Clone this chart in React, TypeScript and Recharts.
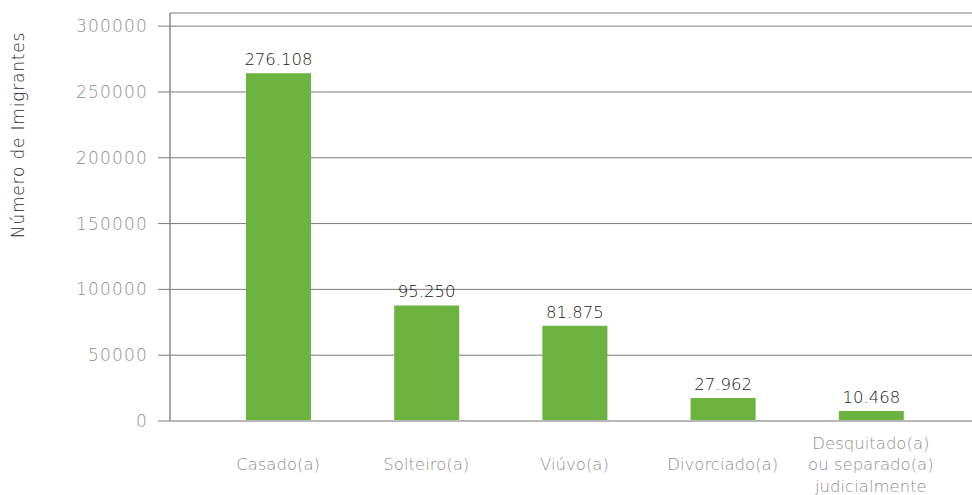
import React from "react";
import { BarChart, Bar, XAxis, YAxis, CartesianGrid, LabelList, Label } from "recharts";

const categories = [
  "Casado(a)",
  "Solteiro(a)",
  "Viúvo(a)",
  "Divorciado(a)",
  "Desquitado(a)\nou separado(a)\njudicialmente",
];
const barValues = [264200, 87800, 72300, 17500, 7600];
const valueLabels = ["276.108", "95.250", "81.875", "27.962", "10.468"];
const yTicks = [0, 50000, 100000, 150000, 200000, 250000, 300000];
const yTitle = "Número de Imigrantes";

const data = categories.map((c, i) => ({ name: c, value: barValues[i] }));

const FONT = "'DejaVu Sans', sans-serif";

const XTick = (props: any) => {
  const { x, y, payload } = props;
  const lines = String(payload.value).split("\n");
  const n = lines.length;
  return (
    <g>
      {lines.map((l, i) => (
        <text
          key={i}
          x={x}
          y={y + 43.5 + (i - (n - 1) / 2) * 21.5}
          textAnchor="middle"
          dominantBaseline="central"
          fill="#8f8f8f"
          fontFamily={FONT}
          fontSize={16.5}
          fontWeight={200}
        >
          {l}
        </text>
      ))}
    </g>
  );
};

const YTick = (props: any) => {
  const { x, y, payload } = props;
  return (
    <text
      x={x}
      y={y}
      textAnchor="end"
      dominantBaseline="central"
      fill="#8f8f8f"
      fontFamily={FONT}
      fontSize={17}
      fontWeight={200}
      letterSpacing={1.2}
    >
      {payload.value}
    </text>
  );
};

const ValueLabel = (props: any) => {
  const { x, y, width, index } = props;
  return (
    <text
      x={x + width / 2}
      y={y - 8}
      textAnchor="middle"
      fill="#1a1a1a"
      fontFamily={FONT}
      fontSize={16.5}
      fontWeight={200}
    >
      {valueLabels[index]}
    </text>
  );
};

const YTitle = () => (
  <text
    x={18}
    y={135}
    transform="rotate(-90, 18, 135)"
    textAnchor="middle"
    dominantBaseline="central"
    fill="#2a2a2a"
    fontFamily={FONT}
    fontSize={17}
    fontWeight={200}
    letterSpacing={0.8}
  >
    {yTitle}
  </text>
);

export default function App() {
  return (
    <div style={{ position: "absolute", left: 0, top: 0, background: "#fff" }}>
      <BarChart
        width={972}
        height={495}
        data={data}
        margin={{ top: 13, right: 0, bottom: 0, left: 0 }}
      >
        <CartesianGrid horizontal vertical={false} stroke="#7a7a7a" strokeWidth={1} />
        <XAxis
          dataKey="name"
          height={74}
          tickLine={false}
          tickSize={0}
          tickMargin={0}
          axisLine={{ stroke: "#b8b8b8", strokeWidth: 2 }}
          padding={{ left: 34, right: 27 }}
          tick={<XTick />}
          interval={0}
        />
        <YAxis
          width={170}
          domain={[0, 310000]}
          ticks={yTicks}
          tickSize={12}
          tickMargin={10}
          tickLine={{ stroke: "#7a7a7a" }}
          axisLine={{ stroke: "#8a8a8a", strokeWidth: 1.5 }}
          tick={<YTick />}
          interval={0}
        >
          <Label content={<YTitle />} />
        </YAxis>
        <Bar dataKey="value" fill="#6cb33f" barSize={65} isAnimationActive={false}>
          <LabelList dataKey="value" content={<ValueLabel />} />
        </Bar>
      </BarChart>
    </div>
  );
}
